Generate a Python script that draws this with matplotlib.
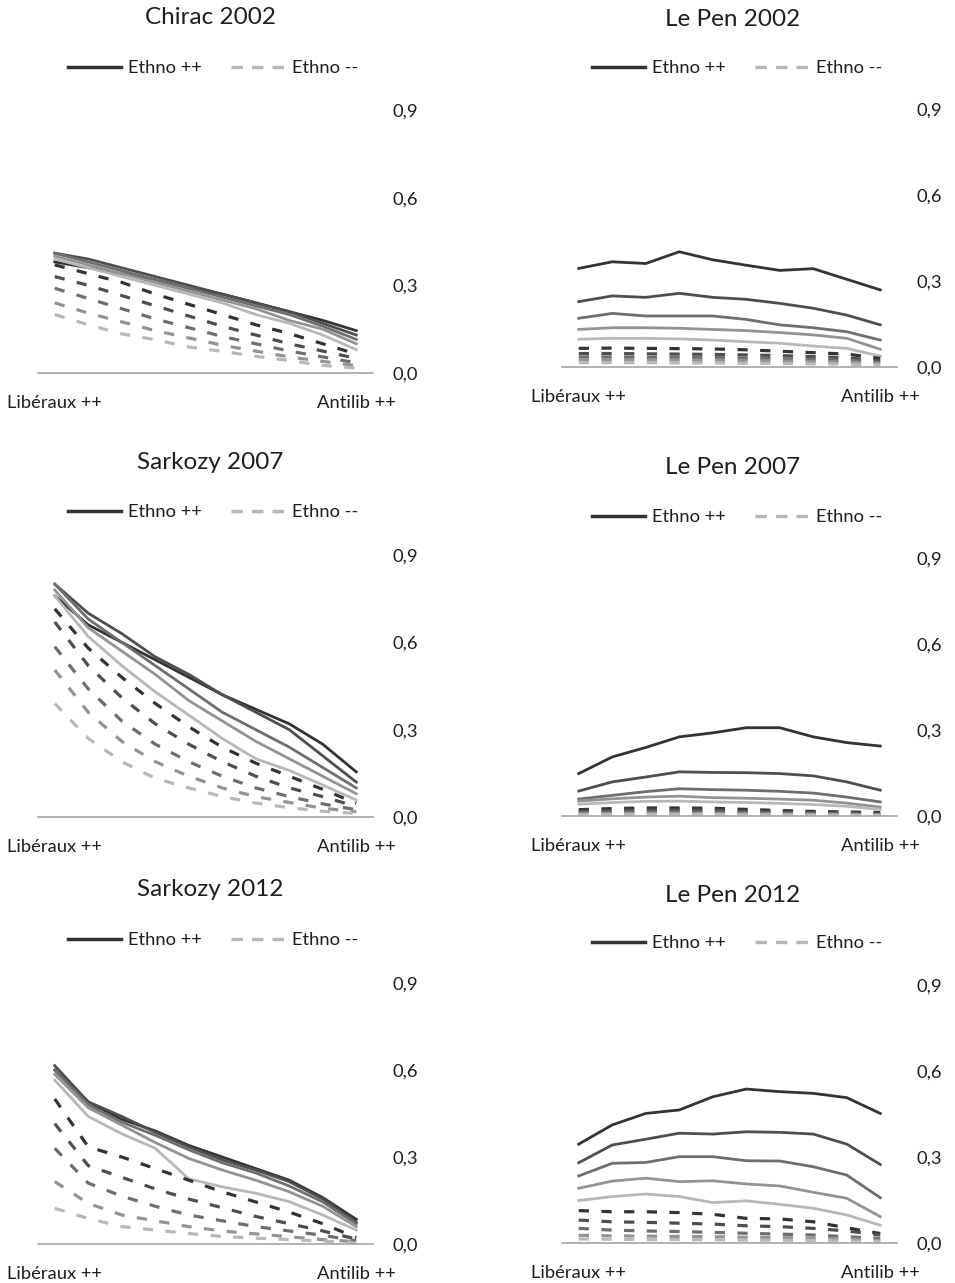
import matplotlib
matplotlib.use('Agg')
import matplotlib.pyplot as plt
from matplotlib.lines import Line2D
from matplotlib.ticker import FuncFormatter

plt.rcParams['font.family'] = ['Lato', 'DejaVu Sans']

# 10 positions on the liberalism scale, from "Libéraux ++" to "Antilib ++"
positions = list(range(10))
tick_labels = ['Libéraux ++', '', '', '', '', '', '', '', '', 'Antilib ++']
legend_labels = ['Ethno ++', 'Ethno --']

# colours for the 5 levels of ethnocentrism, inside each group (solid / dashed)
greys = ['#333333', '#4e4e4e', '#6e6e6e', '#939393', '#b8b8b8']

# Chirac 2002
chirac02_solid = [
    [0.38, 0.36, 0.34, 0.32, 0.29, 0.27, 0.24, 0.21, 0.18, 0.145],
    [0.41, 0.39, 0.36, 0.33, 0.30, 0.27, 0.24, 0.21, 0.17, 0.13],
    [0.41, 0.38, 0.35, 0.32, 0.29, 0.26, 0.23, 0.20, 0.16, 0.115],
    [0.40, 0.37, 0.34, 0.31, 0.28, 0.25, 0.22, 0.18, 0.15, 0.10],
    [0.39, 0.36, 0.33, 0.30, 0.27, 0.24, 0.20, 0.17, 0.13, 0.08],
]
chirac02_dashed = [
    [0.37, 0.34, 0.31, 0.27, 0.235, 0.20, 0.165, 0.135, 0.10, 0.065],
    [0.33, 0.30, 0.265, 0.23, 0.195, 0.16, 0.13, 0.10, 0.075, 0.05],
    [0.29, 0.255, 0.22, 0.185, 0.155, 0.125, 0.10, 0.075, 0.055, 0.035],
    [0.24, 0.205, 0.175, 0.145, 0.12, 0.095, 0.075, 0.055, 0.04, 0.025],
    [0.20, 0.165, 0.134, 0.114, 0.089, 0.074, 0.057, 0.043, 0.026, 0.017],
]

# Le Pen 2002
lepen02_solid = [
    [0.344, 0.367, 0.361, 0.402, 0.374, 0.355, 0.337, 0.343, 0.306, 0.269],
    [0.228, 0.248, 0.243, 0.257, 0.243, 0.236, 0.222, 0.205, 0.181, 0.147],
    [0.170, 0.187, 0.178, 0.178, 0.178, 0.166, 0.147, 0.137, 0.123, 0.094],
    [0.131, 0.137, 0.137, 0.135, 0.131, 0.127, 0.120, 0.112, 0.100, 0.062],
    [0.097, 0.100, 0.100, 0.098, 0.094, 0.088, 0.083, 0.073, 0.065, 0.038],
]
lepen02_dashed = [
    [0.065, 0.066, 0.065, 0.064, 0.063, 0.060, 0.055, 0.050, 0.045, 0.030],
    [0.047, 0.047, 0.046, 0.045, 0.044, 0.042, 0.040, 0.036, 0.032, 0.022],
    [0.035, 0.035, 0.034, 0.034, 0.033, 0.031, 0.029, 0.027, 0.024, 0.016],
    [0.025, 0.025, 0.025, 0.024, 0.024, 0.023, 0.021, 0.019, 0.017, 0.012],
    [0.015, 0.015, 0.015, 0.014, 0.014, 0.013, 0.012, 0.011, 0.010, 0.007],
]

# Sarkozy 2007
sarko07_solid = [
    [0.76, 0.66, 0.60, 0.54, 0.48, 0.42, 0.37, 0.32, 0.25, 0.155],
    [0.80, 0.70, 0.63, 0.55, 0.49, 0.42, 0.36, 0.30, 0.21, 0.12],
    [0.80, 0.68, 0.60, 0.52, 0.44, 0.36, 0.30, 0.24, 0.17, 0.10],
    [0.78, 0.65, 0.57, 0.49, 0.40, 0.33, 0.26, 0.20, 0.14, 0.08],
    [0.76, 0.62, 0.52, 0.43, 0.35, 0.27, 0.20, 0.16, 0.11, 0.058],
]
sarko07_dashed = [
    [0.715, 0.58, 0.48, 0.39, 0.31, 0.24, 0.185, 0.14, 0.095, 0.047],
    [0.67, 0.52, 0.41, 0.32, 0.25, 0.19, 0.14, 0.10, 0.07, 0.036],
    [0.585, 0.44, 0.33, 0.25, 0.19, 0.14, 0.10, 0.07, 0.045, 0.025],
    [0.505, 0.36, 0.26, 0.19, 0.14, 0.10, 0.07, 0.05, 0.03, 0.018],
    [0.39, 0.27, 0.19, 0.133, 0.10, 0.07, 0.048, 0.032, 0.02, 0.012],
]

# Le Pen 2007
lepen07_solid = [
    [0.148, 0.206, 0.239, 0.276, 0.290, 0.308, 0.308, 0.276, 0.256, 0.244],
    [0.087, 0.119, 0.136, 0.154, 0.152, 0.151, 0.148, 0.140, 0.119, 0.090],
    [0.059, 0.072, 0.085, 0.095, 0.092, 0.090, 0.086, 0.080, 0.066, 0.049],
    [0.052, 0.060, 0.066, 0.069, 0.064, 0.062, 0.059, 0.055, 0.045, 0.031],
    [0.041, 0.047, 0.051, 0.052, 0.049, 0.047, 0.044, 0.040, 0.034, 0.023],
]
lepen07_dashed = [
    [0.022, 0.026, 0.028, 0.028, 0.027, 0.023, 0.019, 0.016, 0.014, 0.012],
    [0.016, 0.019, 0.021, 0.021, 0.020, 0.017, 0.014, 0.012, 0.010, 0.008],
    [0.011, 0.013, 0.014, 0.014, 0.013, 0.011, 0.009, 0.008, 0.007, 0.005],
    [0.007, 0.008, 0.009, 0.009, 0.008, 0.007, 0.006, 0.005, 0.004, 0.003],
    [0.004, 0.005, 0.005, 0.005, 0.005, 0.004, 0.004, 0.003, 0.003, 0.002],
]

# Sarkozy 2012
sarko12_solid = [
    [0.60, 0.49, 0.43, 0.39, 0.34, 0.30, 0.26, 0.22, 0.16, 0.085],
    [0.615, 0.49, 0.44, 0.385, 0.335, 0.29, 0.255, 0.215, 0.155, 0.075],
    [0.60, 0.48, 0.42, 0.375, 0.325, 0.28, 0.245, 0.20, 0.145, 0.07],
    [0.585, 0.47, 0.41, 0.35, 0.295, 0.255, 0.22, 0.18, 0.13, 0.06],
    [0.565, 0.44, 0.38, 0.33, 0.225, 0.197, 0.175, 0.146, 0.10, 0.048],
]
sarko12_dashed = [
    [0.50, 0.335, 0.30, 0.26, 0.22, 0.18, 0.145, 0.11, 0.07, 0.022],
    [0.415, 0.27, 0.23, 0.19, 0.155, 0.125, 0.095, 0.07, 0.045, 0.017],
    [0.33, 0.21, 0.165, 0.13, 0.10, 0.08, 0.06, 0.045, 0.03, 0.011],
    [0.215, 0.14, 0.10, 0.08, 0.06, 0.045, 0.035, 0.025, 0.015, 0.008],
    [0.123, 0.088, 0.06, 0.048, 0.036, 0.026, 0.02, 0.015, 0.01, 0.003],
]

# Le Pen 2012
lepen12_solid = [
    [0.345, 0.412, 0.452, 0.464, 0.510, 0.537, 0.528, 0.522, 0.507, 0.452],
    [0.280, 0.342, 0.362, 0.383, 0.380, 0.388, 0.386, 0.380, 0.345, 0.274],
    [0.234, 0.278, 0.281, 0.301, 0.301, 0.287, 0.286, 0.266, 0.237, 0.158],
    [0.191, 0.216, 0.226, 0.214, 0.217, 0.206, 0.199, 0.177, 0.156, 0.092],
    [0.148, 0.162, 0.171, 0.162, 0.141, 0.147, 0.135, 0.121, 0.098, 0.062],
]
lepen12_dashed = [
    [0.113, 0.109, 0.109, 0.106, 0.100, 0.086, 0.084, 0.074, 0.053, 0.033],
    [0.080, 0.074, 0.072, 0.069, 0.066, 0.060, 0.057, 0.051, 0.042, 0.028],
    [0.051, 0.045, 0.042, 0.040, 0.037, 0.034, 0.031, 0.028, 0.022, 0.016],
    [0.027, 0.025, 0.024, 0.023, 0.022, 0.020, 0.019, 0.017, 0.014, 0.010],
    [0.014, 0.013, 0.012, 0.012, 0.011, 0.010, 0.010, 0.009, 0.007, 0.005],
]

W, H = 955, 1283
fig = plt.figure(figsize=(W / 100, H / 100), dpi=100)

txt_col = '#1e1e1e'


def panel(left, bottom, top, solid, dashed, title, title_xy, leg_xy):
    # pixel coords of the plot box -> figure fractions
    ax = fig.add_axes([left / W, 1 - bottom / H, 335 / W, (bottom - top) / H])
    for i in range(5):
        ax.plot(positions, solid[i], color=greys[i], lw=2.0, solid_joinstyle='round')
    for i in range(5):
        ax.plot(positions, dashed[i], color=greys[i], lw=2.3, dashes=(3.2, 3.9))
    ax.set_xlim(-0.5, 9.5)
    ax.set_ylim(0, 0.9)
    ax.set_yticks([0, 0.3, 0.6, 0.9])
    ax.yaxis.set_major_formatter(FuncFormatter(lambda v, p: ('%.1f' % v).replace('.', ',')))
    ax.yaxis.tick_right()
    ax.set_xticks(positions)
    ax.set_xticklabels(tick_labels)
    ax.tick_params(axis='y', length=0, pad=14, labelsize=13.2, labelcolor=txt_col)
    ax.tick_params(axis='x', length=0, pad=16, labelsize=13.2, labelcolor=txt_col)
    for s in ['top', 'left', 'right']:
        ax.spines[s].set_visible(False)
    ax.spines['bottom'].set_color('#a6a6a6')
    ax.spines['bottom'].set_linewidth(1.2)
    ax.patch.set_alpha(0)

    fig.text(title_xy[0] / W, 1 - title_xy[1] / H, title, ha='center', va='center',
             fontsize=17.5, color=txt_col)

    handles = [Line2D([], [], color=greys[0], lw=2.5),
               Line2D([], [], color=greys[4], lw=2.5, dashes=(3.3, 2.6))]
    ax.legend(handles, legend_labels, loc='center', ncol=2, frameon=False,
              bbox_to_anchor=(leg_xy[0] / W, 1 - leg_xy[1] / H),
              bbox_transform=fig.transFigure, fontsize=13.2, handlelength=2.9,
              handletextpad=0.4, columnspacing=1.6, labelcolor=txt_col)
    return ax


panel(38, 373, 110, chirac02_solid, chirac02_dashed, 'Chirac 2002', (210, 18), (213, 68))
panel(562, 367, 109, lepen02_solid, lepen02_dashed, 'Le Pen 2002', (733, 19), (737, 68))
panel(38, 817, 555, sarko07_solid, sarko07_dashed, 'Sarkozy 2007', (210, 462), (213, 512))
panel(562, 816, 558, lepen07_solid, lepen07_dashed, 'Le Pen 2007', (733, 467), (737, 517))
panel(38, 1244, 983, sarko12_solid, sarko12_dashed, 'Sarkozy 2012', (210, 890), (213, 940))
panel(562, 1243, 985, lepen12_solid, lepen12_dashed, 'Le Pen 2012', (733, 895), (737, 943))

fig.savefig('out.png', dpi=100, facecolor='white')
